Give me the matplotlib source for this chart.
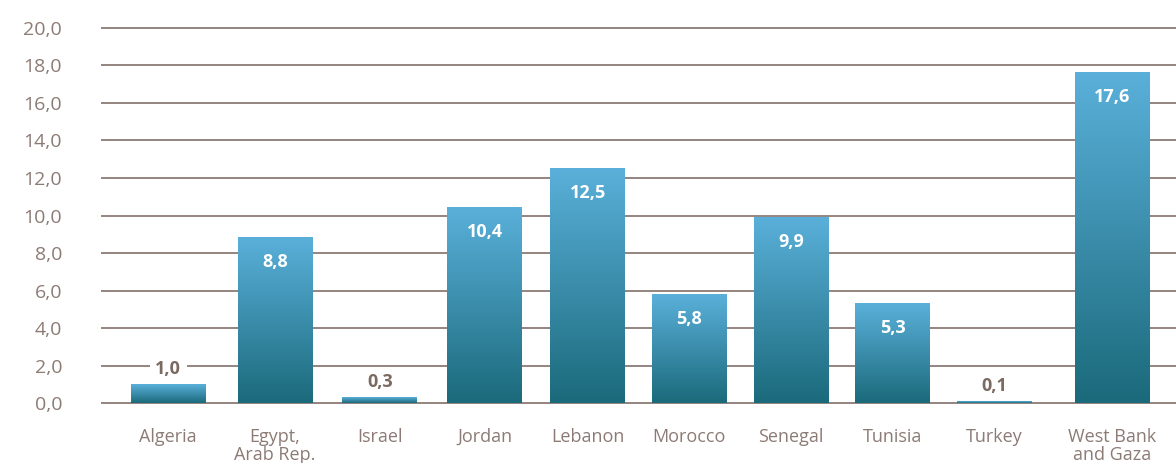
import numpy as np
import matplotlib.pyplot as plt
from matplotlib.colors import LinearSegmentedColormap

countries = ["Algeria", "Egypt,\nArab Rep.", "Israel", "Jordan", "Lebanon",
             "Morocco", "Senegal", "Tunisia", "Turkey", "West Bank\nand Gaza"]
values = [1.0, 8.8, 0.3, 10.4, 12.5, 5.8, 9.9, 5.3, 0.1, 17.6]
yticks = [0, 2, 4, 6, 8, 10, 12, 14, 16, 18, 20]

grid_col = "#8c7b75"
text_col = "#8c7b75"
label_col = "#7a6a62"
plt.rcParams["font.family"] = ["Open Sans", "DejaVu Sans"]

# bottom-to-top gradient: dark teal to light blue
cmap = LinearSegmentedColormap.from_list("bar", ["#1b6a7b", "#5ab0da"])
grad = np.linspace(0, 1, 256).reshape(-1, 1)

fig = plt.figure(figsize=(11.76, 4.63), dpi=100)
ax = fig.add_axes([101 / 1176, 0.1093, 1 - 101 / 1176, 0.9598 - 0.1093])
ax.set_xlim(-0.64, 9.61)
ax.set_ylim(-0.5, 20.5)

for t in yticks:
    ax.axhline(t, color=grid_col, lw=1.3, zorder=1)

x = np.arange(len(values))
x = x + np.array([0, 0.02, 0.02, 0.02, 0.0, -0.03, -0.06, -0.09, -0.12, 0.0])
w = 0.715
for xi, v in zip(x, values):
    ax.imshow(grad, cmap=cmap, origin="lower", aspect="auto",
              extent=(xi - w / 2, xi + w / 2, 0, v), zorder=2)
    lbl = f"{v:.1f}".replace(".", ",")
    if v >= 3:
        ax.text(xi, v - 1.3, lbl, ha="center", va="center", color="white",
                fontsize=13, fontweight="bold", zorder=3)
    else:
        ax.text(xi, v + 0.8, lbl, ha="center", va="center", color=label_col,
                fontsize=13, fontweight="bold", zorder=3,
                bbox=dict(facecolor="white", edgecolor="none", pad=4))

ax.set_yticks(yticks)
ax.set_yticklabels([f"{t:.1f}".replace(".", ",") for t in yticks])
ax.set_xticks(x)
ax.set_xticklabels(countries, linespacing=1.0)
ax.tick_params(axis="y", length=0, pad=28, labelsize=14, labelcolor=text_col)
ax.tick_params(axis="x", length=0, pad=11, labelsize=13, labelcolor=text_col)
for s in ax.spines.values():
    s.set_visible(False)

fig.savefig("out.png", dpi=100)
